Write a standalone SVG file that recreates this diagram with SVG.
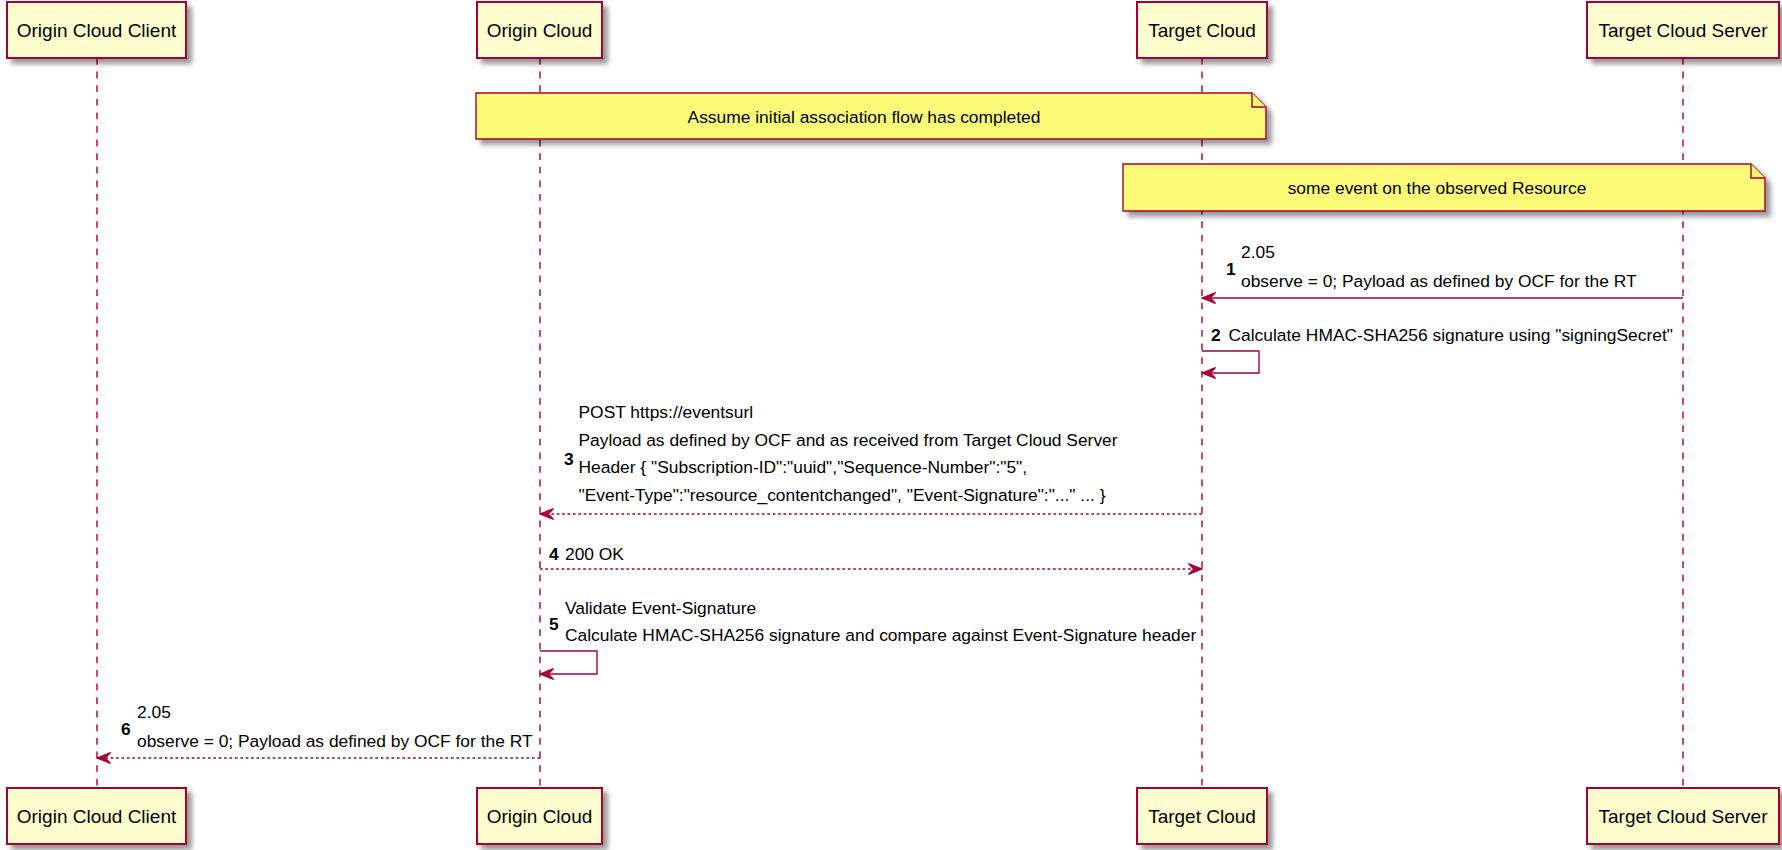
<svg xmlns="http://www.w3.org/2000/svg" width="1782" height="850" viewBox="0 0 1782 850">
<defs>
<style>
.box{fill:#FEFECE;stroke:#A80036;stroke-width:2}
.note{fill:#FBFB77;stroke:#A80036;stroke-width:1.4}
.life{stroke:#A80036;stroke-width:1.4;stroke-dasharray:6.8,6.8;fill:none}
.msg{stroke:#A80036;stroke-width:1.4;fill:none}
.dash{stroke-dasharray:2.7,2.7}
.pt{font-family:"Liberation Sans",Arial,sans-serif;font-size:19px;fill:#000;text-anchor:middle}
.t{font-family:"Liberation Sans",Arial,sans-serif;font-size:17.4px;fill:#000}
.n{font-family:"Liberation Sans",Arial,sans-serif;font-size:17.4px;font-weight:bold;fill:#000}
.c{text-anchor:middle}
</style>
<filter id="sh" x="-0.2" y="-0.5" width="1.4" height="2">
<feGaussianBlur in="SourceAlpha" stdDeviation="2.7" result="b"/>
<feColorMatrix in="b" type="matrix" values="0 0 0 0 0 0 0 0 0 0 0 0 0 0 0 0 0 0 .4 0" result="b2"/>
<feOffset in="b2" dx="5.4" dy="5.4" result="b3"/>
<feBlend in="SourceGraphic" in2="b3" mode="normal"/>
</filter>
<marker id="ah" markerUnits="userSpaceOnUse" markerWidth="16" markerHeight="14" refX="14.6" refY="6.4" orient="auto" overflow="visible">
<path d="M1,1 L14.6,6.4 L1,11.8 L6.4,6.4 Z" fill="#A80036" stroke="#A80036" stroke-width="1.2"/>
</marker>
</defs>
<rect width="1782" height="850" fill="#FFFFFF"/>

<g id="lifelines">
<line class="life" x1="97" y1="58" x2="97" y2="788"/>
<line class="life" x1="540" y1="58" x2="540" y2="788"/>
<line class="life" x1="1202" y1="58" x2="1202" y2="788"/>
<line class="life" x1="1683" y1="58" x2="1683" y2="788"/>
</g>

<g id="p-origin-cloud-client">
<rect class="box" x="7" y="2" width="179" height="56" filter="url(#sh)"/>
<text class="pt" x="96.5" y="37">Origin Cloud Client</text>
<rect class="box" x="7" y="788" width="179" height="56" filter="url(#sh)"/>
<text class="pt" x="96.5" y="823">Origin Cloud Client</text>
</g>
<g id="p-origin-cloud">
<rect class="box" x="477" y="2" width="125" height="56" filter="url(#sh)"/>
<text class="pt" x="539.5" y="37">Origin Cloud</text>
<rect class="box" x="477" y="788" width="125" height="56" filter="url(#sh)"/>
<text class="pt" x="539.5" y="823">Origin Cloud</text>
</g>
<g id="p-target-cloud">
<rect class="box" x="1137" y="2" width="130" height="56" filter="url(#sh)"/>
<text class="pt" x="1202" y="37">Target Cloud</text>
<rect class="box" x="1137" y="788" width="130" height="56" filter="url(#sh)"/>
<text class="pt" x="1202" y="823">Target Cloud</text>
</g>
<g id="p-target-cloud-server">
<rect class="box" x="1587" y="2" width="192" height="56" filter="url(#sh)"/>
<text class="pt" x="1683" y="37">Target Cloud Server</text>
<rect class="box" x="1587" y="788" width="192" height="56" filter="url(#sh)"/>
<text class="pt" x="1683" y="823">Target Cloud Server</text>
</g>

<g id="note-association">
<path class="note" d="M476,93 L1252,93 L1266,107 L1266,139 L476,139 Z" filter="url(#sh)"/>
<path class="note" d="M1252,93 L1252,107 L1266,107"/>
<text class="t c" x="864" y="122.5">Assume initial association flow has completed</text>
</g>
<g id="note-event">
<path class="note" d="M1123,164 L1751,164 L1765,178 L1765,211 L1123,211 Z" filter="url(#sh)"/>
<path class="note" d="M1751,164 L1751,178 L1765,178"/>
<text class="t c" x="1437" y="194">some event on the observed Resource</text>
</g>

<g id="connectors">
<g id="m1">
<line class="msg" x1="1683" y1="298" x2="1202" y2="298" marker-end="url(#ah)"/>
<text class="n" x="1226" y="275">1</text>
<text class="t" x="1241" y="258">2.05</text>
<text class="t" x="1241" y="287">observe = 0; Payload as defined by OCF for the RT</text>
</g>
<g id="m2">
<path class="msg" d="M1202,351 H1259 V373 H1202" marker-end="url(#ah)"/>
<text class="n" x="1211" y="341">2</text>
<text class="t" x="1228.5" y="341">Calculate HMAC-SHA256 signature using "signingSecret"</text>
</g>
<g id="m3">
<line class="msg dash" x1="1202" y1="514" x2="540" y2="514" marker-end="url(#ah)"/>
<text class="n" x="564" y="465">3</text>
<text class="t" x="578.5" y="418">POST https://eventsurl</text>
<text class="t" x="578.5" y="446">Payload as defined by OCF and as received from Target Cloud Server</text>
<text class="t" x="578.5" y="473">Header { "Subscription-ID":"uuid","Sequence-Number":"5",</text>
<text class="t" x="578.5" y="501">"Event-Type":"resource_contentchanged", "Event-Signature":"..." ... }</text>
</g>
<g id="m4">
<line class="msg dash" x1="540" y1="569" x2="1202" y2="569" marker-end="url(#ah)"/>
<text class="n" x="549" y="560">4</text>
<text class="t" x="565" y="560">200 OK</text>
</g>
<g id="m5">
<path class="msg" d="M540,651 H597 V674 H540" marker-end="url(#ah)"/>
<text class="n" x="549" y="630">5</text>
<text class="t" x="565" y="614">Validate Event-Signature</text>
<text class="t" x="565" y="641">Calculate HMAC-SHA256 signature and compare against Event-Signature header</text>
</g>
<g id="m6">
<line class="msg dash" x1="540" y1="758" x2="97" y2="758" marker-end="url(#ah)"/>
<text class="n" x="121" y="735">6</text>
<text class="t" x="137" y="718">2.05</text>
<text class="t" x="137" y="747">observe = 0; Payload as defined by OCF for the RT</text>
</g>
</g>
</svg>
